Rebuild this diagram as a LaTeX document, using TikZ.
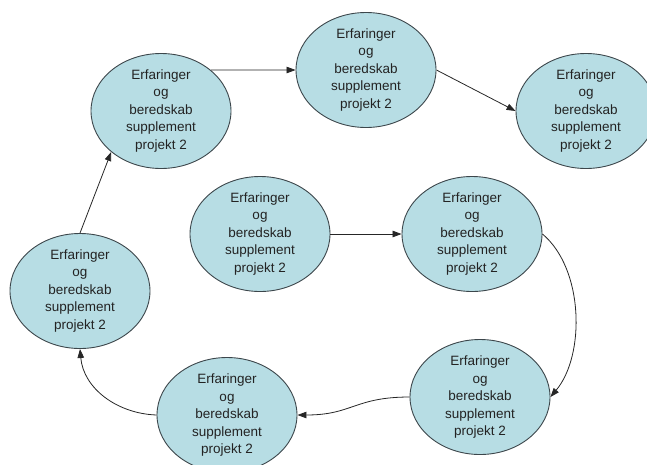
\documentclass[tikz,border=0pt]{standalone}
\usepackage{fontspec}
\setmainfont{Liberation Sans}
\usepackage{tikz}
\usetikzlibrary{shapes.geometric, arrows.meta}
\definecolor{IdeaBlue}{RGB}{183, 221, 228}
\definecolor{RimGrey}{RGB}{60, 70, 75}
\definecolor{InkGrey}{RGB}{35, 35, 35}

\begin{document}
\begin{tikzpicture}[x=1pt, y=-1pt,
    idea/.style={ellipse, draw=RimGrey, line width=0.9pt, fill=IdeaBlue, text=InkGrey,
        minimum width=140pt, minimum height=115pt, inner sep=-6pt, align=center,
        font=\fontsize{13.5}{17.5}\selectfont},
    flow/.style={-{Triangle[length=9pt, width=6.5pt]}, line width=0.8pt, black!85}]
    \useasboundingbox (0,0) rectangle (647,464);

    % Ellipser
    \node[idea] (tl) at (161,111) {Erfaringer\\og\\beredskab\\supplement\\projekt 2};
    \node[idea] (tm) at (366,70)  {Erfaringer\\og\\beredskab\\supplement\\projekt 2};
    \node[idea] (tr) at (586,111) {Erfaringer\\og\\beredskab\\supplement\\projekt 2};
    \node[idea] (ml) at (260,234) {Erfaringer\\og\\beredskab\\supplement\\projekt 2};
    \node[idea] (mr) at (472,234) {Erfaringer\\og\\beredskab\\supplement\\projekt 2};
    \node[idea] (lf) at (80,291)  {Erfaringer\\og\\beredskab\\supplement\\projekt 2};
    \node[idea] (br) at (480,397) {Erfaringer\\og\\beredskab\\supplement\\projekt 2};
    \node[idea] (bm) at (227,415) {Erfaringer\\og\\beredskab\\supplement\\projekt 2};

    % Pile
    \draw[flow] (ml.east) -- (mr.west);
    \draw[flow] (mr.east) to[out=-40, in=50, looseness=0.85] (br.east);
    \draw[flow] (br.west) .. controls +(-55,0) and +(55,0) .. (bm.east);
    \draw[flow] (bm.west) to[out=178, in=-85] (lf.south);
    \draw[flow] (lf.north) -- (tl.south west);
    \draw[flow] (tl.north east) -- (tm.west);
    \draw[flow] (tm.east) -- (tr.west);
\end{tikzpicture}
\end{document}
